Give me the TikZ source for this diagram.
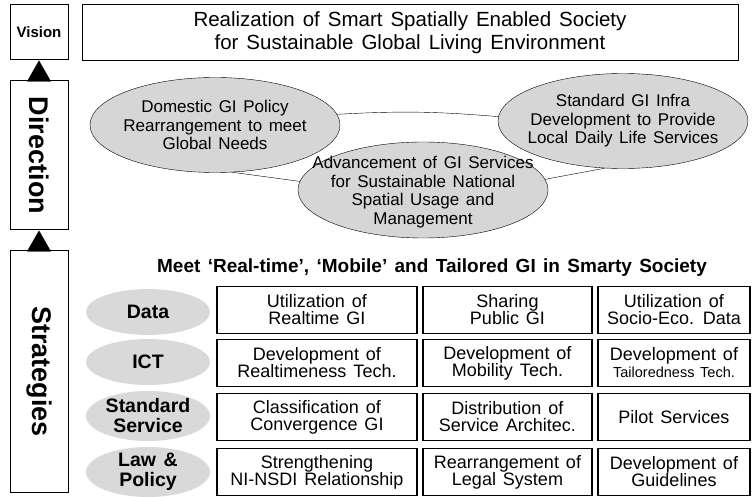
\documentclass[tikz,border=0pt]{standalone}
\usepackage{fontspec}
\setmainfont{Liberation Sans}[WordSpace=1.4]
\usetikzlibrary{shapes.geometric,arrows.meta}

\begin{document}
\begin{tikzpicture}[x=1pt,y=-1pt,
  side/.style={draw,line width=1pt,inner sep=0pt,font=\bfseries\fontsize{27}{27}\selectfont},
  dir/.style={draw,ellipse,fill=gray!32,minimum width=250,minimum height=95,inner sep=0pt},
  dirtext/.style={align=center,inner sep=0pt,font=\fontsize{17}{18.5}\selectfont},
  area/.style={ellipse,fill=gray!30,minimum width=124,minimum height=46,inner sep=0pt},
  areatext/.style={align=center,inner sep=0pt,font=\bfseries\fontsize{19.5}{20}\selectfont},
  task/.style={draw,line width=1.2pt,minimum height=47,inner sep=0pt,align=center,font=\fontsize{18}{17}\selectfont},
  up/.style={-{Triangle[length=21pt,width=24pt]}}]
\useasboundingbox (0,0) rectangle (753,497);

% left column
\node [side,minimum width=58,minimum height=55,font=\bfseries\fontsize{15}{15}\selectfont] (vis) at(39,32.5){Vision};
\node [side,rotate=-90,minimum width=149,minimum height=58] (dirn) at(39,155.5){Direction};
\node [side,rotate=-90,minimum width=241,minimum height=58] (strat) at(39,371.5){Strategies};
\draw[up](dirn.west) -- (vis.south);
\draw[up](strat.west) -- (dirn.east);

% vision
\node [draw,line width=1pt,minimum width=656,minimum height=56,align=center,font=\fontsize{20.5}{23}\selectfont] (goal) at(410,33){Realization of Smart Spatially Enabled Society\\for Sustainable Global Living Environment};

% directions
\node [dir] (pol) at(215,125){};
\node [dirtext] (polt) at(pol){Domestic GI Policy\\Rearrangement to meet\\Global Needs};
\node [dir] (inf) at(623,121){};
\node [dirtext] (inft) at(inf){Standard GI Infra\\Development to Provide\\Local Daily Life Services};
\node [dir,minimum height=96] (use) at(423,190){};
\node [dirtext] (uset) at(423,192){Advancement of GI Services\\for Sustainable National\\Spatial Usage and\\Management};
\draw (pol.5) to[bend left=4] (inf.178);
\draw (pol.-70) -- (use.176);
\draw (use.5) -- (inf.-111);

% strategies
\node [font=\bfseries\fontsize{19}{19}\selectfont] (meet) at(432,268){Meet ‘Real-time’, ‘Mobile’ and Tailored GI in Smarty Society};

\node [area] (data) at(148,312){};
\node [areatext] (datat) at(data){Data};
\node [area] (ict) at(148,362){};
\node [areatext] (ictt) at(ict){ICT};
\node [area,minimum height=50] (std) at(148,416){};
\node [areatext] (stdt) at(std){Standard\\Service};
\node [area,minimum height=50] (law) at(148,472){};
\node [areatext] (lawt) at(law){Law \&\\Policy};

\node [task,minimum width=200] (d1) at(317,310){Utilization of\\Realtime GI};
\node [task,minimum width=169] (d2) at(507.5,310){Sharing\\Public GI};
\node [task,minimum width=152] (d3) at(674,310){Utilization of\\Socio-Eco. Data};
\node [task,minimum width=200] (t1) at(317,363){Development of\\Realtimeness Tech.};
\node [task,minimum width=169] (t2) at(507.5,363){Development of\\Mobility Tech.};
\node [task,minimum width=152] (t3) at(674,363){Development of\\{\fontsize{14.5}{14}\selectfont Tailoredness Tech.}};
\node [task,minimum width=200] (s1) at(317,417){Classification of\\Convergence GI};
\node [task,minimum width=169] (s2) at(507.5,417){Distribution of\\Service Architec.};
\node [task,minimum width=152] (s3) at(674,417){Pilot Services};
\node [task,minimum width=200] (l1) at(317,472){Strengthening\\NI-NSDI Relationship};
\node [task,minimum width=169] (l2) at(507.5,472){Rearrangement of\\Legal System};
\node [task,minimum width=152] (l3) at(674,472){Development of\\Guidelines};

\end{tikzpicture}
\end{document}
